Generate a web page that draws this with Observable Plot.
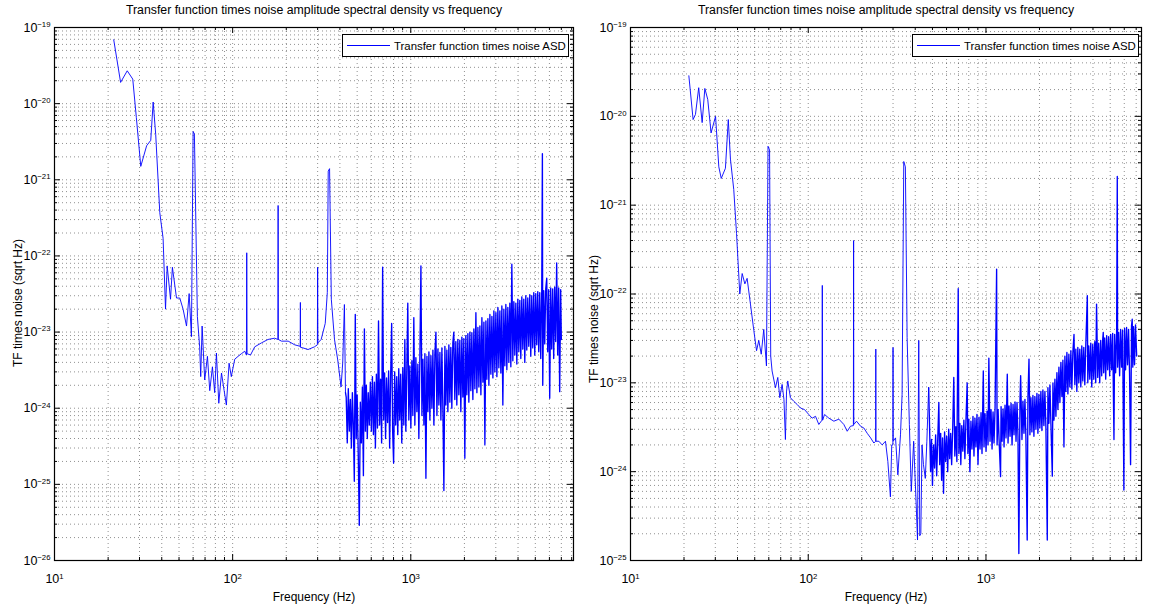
<!DOCTYPE html>
<html>
<head>
<meta charset="utf-8">
<script src="https://cdn.jsdelivr.net/npm/d3@7"></script>
<script src="https://cdn.jsdelivr.net/npm/@observablehq/plot@0.6"></script>
<style>
  body { margin: 0; background: #fff; }
  #wrap { position: relative; width: 1149px; height: 606px; background: #fff; overflow: hidden;
          font-family: "Liberation Sans", Arial, Helvetica, sans-serif; }
  .panel { position: absolute; top: 0; }
  .legend { position: absolute; box-sizing: border-box; border: 1px solid #000; background: #fff;
            display: flex; align-items: center; font-size: 11.4px; color: #000; white-space: nowrap; }
  .legend svg { flex: none; }
</style>
</head>
<body>
<div id="wrap">
  <div id="left" class="panel" style="left:0px"></div>
  <div id="right" class="panel" style="left:580px"></div>
  <div class="legend" style="left:342px;top:34px;width:227px;height:23px;">
    <svg width="51" height="21"><line x1="4" x2="47" y1="10.5" y2="10.5" stroke="#0000ff" stroke-width="1"/></svg>
    <span>Transfer function times noise ASD</span>
  </div>
  <div class="legend" style="left:912px;top:34px;width:227px;height:23px;">
    <svg width="51" height="21"><line x1="4" x2="47" y1="10.5" y2="10.5" stroke="#0000ff" stroke-width="1"/></svg>
    <span>Transfer function times noise ASD</span>
  </div>
</div>
<script>
// ---------------- text ----------------
const titleText = "Transfer function times noise amplitude spectral density vs frequency";
const xLabel = "Frequency (Hz)";
const yLabel = "TF times noise (sqrt Hz)";
const legendText = "Transfer function times noise ASD";

// ---------------- ticks ----------------
const xMajorTicks = [10, 100, 1000];
const leftYTicks = [1e-26, 1e-25, 1e-24, 1e-23, 1e-22, 1e-21, 1e-20, 1e-19];
const rightYTicks = [1e-25, 1e-24, 1e-23, 1e-22, 1e-21, 1e-20, 1e-19];

// frequency above which the spectrum is a dense noise band
const leftBandStart = 430;
const rightBandStart = 476;

// ---------------- left panel data (Hz, ASD) ----------------
const leftFreq = [
  21.5,23.5,25.6,27.5,28.8,30.5,32.9,34.7,35.8,37.0,39.0,40.7,42.0,42.9,44.8,45.9,48.4,50.5,52.7,55.1,
  57.0,58.7,60.0,61.0,63.4,65.3,66.2,67.4,69.7,72.2,74.4,77.0,79.3,81.1,83.6,86.6,89.6,92.2,95.5,98.3,
  102.7,107.3,112,117,119.5,120,120.5,126,133,145,158,172,179.5,180,180.5,188,205,223,239.5,240,
  240.5,248,265,288,299,300,301,314,331,340,344,350,358,373,389,406,415,424,430,
  434,440,446,452,458,464,470,476,482,488,494,500,507,514,521,528,535,542,549,556,563,570,577,585,593,
  601,609,617,625,633,641,650,659,668,677,686,695,704,713,722,731,741,751,761,771,781,791,801,812,823,
  834,845,856,867,878,890,902,914,926,938,950,962,975,988,
  1001,1014,1027,1040,1054,1068,1082,1096,1110,1125,1140,1155,1170,1185,1200,1216,1232,1248,1264,1280,
  1297,1314,1331,1348,1366,1384,1402,1420,1438,1457,1476,1495,1514,1534,1554,1574,1594,1615,1636,1657,1678,
  1700,1722,1744,1767,1790,1813,1837,1861,1885,1910,1935,1960,1985,2011,2037,2064,2091,2118,2146,2174,
  2202,2231,2260,2290,2320,2350,2381,2412,2443,2475,2507,
  2540,2573,2606,2640,2674,2709,2744,2780,2816,2853,2890,2927,2965,3004,3043,3082,3122,3163,3204,3245,
  3287,3330,3373,3417,3461,3506,3552,3598,3645,3692,3740,
  3789,3838,3888,3938,3989,4041,4093,4146,4200,4254,4309,4365,4422,4479,4537,4596,4656,4716,4777,4839,
  4902,4966,5030,5095,5161,5228,5296,5365,5435,5480,5505,5577,5649,5722,5796,5871,5947,6024,6102,6181,
  6261,6342,6424,6507,6591,6677,6764,6852,6941,7000
];
const leftASD = [
  6.9e-20,1.9e-20,2.7e-20,2.1e-20,6.6e-21,1.5e-21,2.8e-21,3.3e-21,1.05e-20,3.9e-21,3.7e-22,1.7e-22,2.0e-23,7.4e-23,2.7e-23,7.1e-23,2.8e-23,2.8e-23,2.0e-23,1.2e-23,
  3.2e-23,8.7e-24,4.3e-21,4.0e-21,1.6e-23,6.4e-24,2.6e-24,1.2e-23,2.35e-24,4.8e-24,1.7e-24,3.5e-24,1.6e-24,5.3e-24,1.16e-24,2.9e-24,1.7e-24,1.1e-24,3.9e-24,2.6e-24,
  4.4e-24,4.8e-24,5.2e-24,5.6e-24,5.0e-24,1.1e-22,5.2e-24,5.0e-24,6.4e-24,7.2e-24,8.0e-24,8.3e-24,8.0e-24,4.6e-22,8.0e-24,7.6e-24,7.6e-24,6.8e-24,6.5e-24,2.45e-23,
  6.3e-24,6.2e-24,5.9e-24,6.4e-24,6.8e-24,7.1e-23,7.2e-24,8.0e-24,1.3e-23,3.3e-23,1.3e-21,1.4e-21,2.7e-23,8.0e-24,4.3e-24,1.9e-24,4.0e-24,2.3e-23,1.6e-24,
  1.4e-24,3.5e-25,1.8e-24,5e-25,1.3e-24,3e-25,1.6e-24,6e-25,1.1e-25,1.7e-23,4e-25,1.5e-24,2.5e-25,2.9e-26,1.2e-24,3.5e-25,1.9e-24,1.3e-25,1.1e-23,5e-25,2.0e-24,4e-25,1.6e-24,6e-25,2.2e-24,
  5e-25,2.6e-24,4.5e-25,2.2e-24,3e-25,2.8e-24,5.5e-25,1.4e-23,6e-25,2.4e-24,3.5e-25,7.1e-23,7e-25,2.9e-24,4e-25,2.5e-24,6.5e-25,3.1e-24,3e-25,2.7e-24,1.3e-23,5e-25,1.9e-25,3.0e-24,6e-25,
  2.6e-24,4.5e-25,3.3e-24,7e-25,2.8e-24,3.5e-25,3.4e-24,6e-25,8e-24,5e-25,3.2e-24,2.4e-23,7e-25,3.6e-24,
  5.5e-25,4.2e-24,8e-25,1.55e-23,6e-25,4.6e-24,9e-25,3.8e-24,4e-25,5.0e-24,7.4e-23,8e-25,4.4e-24,6e-25,5.2e-24,1.2e-25,4.8e-24,9e-25,5.5e-24,7e-25,
  4.9e-24,1.0e-24,5.8e-24,6e-25,5.3e-24,1.0e-23,8e-25,6.0e-24,1.1e-24,5.4e-24,7e-25,6.2e-24,1.0e-24,8.3e-26,6.5e-24,1.1e-24,5.8e-24,9e-25,6.8e-24,1.2e-24,6.3e-24,
  1.0e-24,7.2e-24,1.0e-23,1.3e-24,7.5e-24,1.1e-24,8.0e-24,1.5e-24,7.8e-24,9e-25,8.6e-24,1.4e-24,8.2e-24,2.2e-25,9.0e-24,1.5e-24,9.5e-24,1.2e-24,1.0e-23,1.7e-24,
  9.8e-24,1.3e-24,1.1e-23,1.8e-24,1.8e-23,1.6e-24,1.15e-23,1.9e-24,1.2e-23,1.5e-24,1.55e-23,
  2.2e-24,1.35e-23,3.3e-25,1.4e-23,2.4e-24,1.5e-23,2.0e-24,1.7e-23,2.8e-24,1.6e-23,2.5e-24,1.9e-23,3.0e-24,1.8e-23,2.6e-24,2.1e-23,3.4e-24,1.9e-23,2.9e-24,2.2e-23,
  1.1e-24,2.0e-23,3.6e-24,2.3e-23,3.2e-24,2.1e-23,4.0e-24,2.4e-23,3.5e-24,7.8e-23,4.2e-24,
  2.5e-23,5.0e-24,2.4e-23,3.8e-24,2.7e-23,5.5e-24,2.6e-23,4.5e-24,2.9e-23,6.0e-24,2.7e-23,4.0e-24,3.0e-23,5.8e-24,2.8e-23,6.5e-24,3.1e-23,4.8e-24,3.0e-23,6.2e-24,
  3.3e-23,5.0e-24,3.2e-23,6.8e-24,3.4e-23,5.5e-24,3.3e-23,4.5e-24,3.6e-23,2.2e-21,2.0e-24,3.5e-23,7.0e-24,3.7e-23,5.1e-23,5.5e-24,3.6e-23,1.35e-24,3.8e-23,6.0e-24,
  3.7e-23,4.5e-24,3.9e-23,7.5e-24,8.1e-23,5.0e-24,3.8e-23,1.65e-24,3.6e-23,8e-24
];

// ---------------- right panel data (Hz, ASD) ----------------
const rightFreq = [
  21.3,22.5,23.2,24.2,25.3,26.2,27.2,28.4,30.1,31.4,32.4,34.2,35.5,36.5,38.1,39.5,41.2,42.5,44.0,45.3,
  47.3,49.4,51.2,52.7,54.4,56.2,58.2,59.4,60.6,61.5,62.6,65.4,67.4,69.2,71.3,73.0,74.4,75.5,76.7,79.4,
  82.9,86.7,90.5,95.3,100.7,105.2,109.9,114.7,119.5,120,120.5,123.6,130.7,139.4,148.7,158.6,165.7,172.9,179.5,180,
  180.5,187.0,196.9,205.6,214.8,224.4,234,239.5,240,240.5,249.7,260.6,272,280.5,290,295,299.5,300,300.5,309.9,
  319.3,330.4,337.4,344.7,352,360,370.7,380,391.8,405.6,412,418.6,424,430,436.6,445,455.7,465,476,
  488,494,500,507,514,521,528,535,543,549,556,563,570,577,585,593,601,609,617,625,633,641,650,
  659,668,677,686,698,704,713,722,731,741,751,761,771,784,791,801,812,823,834,845,856,867,878,890,902,914,926,938,950,966,975,988,
  1001,1014,1027,1038,1054,1068,1082,1096,1110,1125,1148,1155,1170,1185,1208,1216,1232,1248,1264,1280,1297,1318,1331,1348,1366,1384,
  1402,1420,1438,1457,1476,1495,1514,1531,1554,1567,1594,1615,1636,1657,1678,1706,1722,1746,1767,1790,
  1813,1837,1861,1885,1910,1935,1960,1985,2011,2037,2064,2091,2118,2146,2174,2213,2231,2260,2290,2320,2362,2381,2412,2443,2475,2507,
  2540,2573,2606,2640,2674,2709,2746,
  2780,2816,2853,2890,2927,2965,3004,3043,3082,3128,3163,3204,3245,3287,3330,3373,3417,3461,3506,3552,3598,3645,3718,3740,3789,3838,
  3888,3938,3989,4041,4093,4146,4190,4254,4309,4365,4422,4479,
  4537,4570,4596,4656,4716,4777,4839,4902,4966,5030,5095,5161,5250,5296,5365,5435,5480,5505,5577,5649,5722,5796,5871,5970,6024,6102,
  6181,6261,6342,6424,6510,6591,6650,6700,6764,6852,6941,7045
];
const rightASD = [
  2.86e-20,9.2e-21,1.05e-20,2.1e-20,8.5e-21,2.06e-20,1.55e-20,6.5e-21,1.0e-20,2.7e-21,2.0e-21,2.6e-21,9.2e-21,3.3e-21,1.5e-21,4.8e-22,1.0e-22,1.7e-22,1.3e-22,1.5e-22,
  7.7e-23,3.9e-23,2.3e-23,3.0e-23,2.1e-23,4.0e-23,1.55e-23,4.6e-21,4.2e-21,2.0e-23,1.36e-23,8.8e-24,1.15e-23,6.8e-24,9.6e-24,6.5e-24,2.3e-24,8e-24,1.05e-23,6.8e-24,
  6.2e-24,5.7e-24,5.2e-24,5.0e-24,4.4e-24,4.0e-24,4.2e-24,3.4e-24,3.8e-24,1.25e-22,3.8e-24,4.4e-24,4.0e-24,3.7e-24,3.9e-24,3.4e-24,2.85e-24,3.25e-24,3.3e-24,4.0e-22,
  3.4e-24,3.7e-24,3.25e-24,3.1e-24,2.7e-24,2.4e-24,2.1e-24,2.2e-24,2.4e-23,2.2e-24,2.2e-24,2.0e-24,2.2e-24,1.3e-24,5.2e-25,2.0e-24,2.0e-24,2.5e-23,2.2e-24,2.4e-24,
  9.2e-25,2.6e-24,7.4e-24,3.1e-21,2.7e-21,3.25e-23,3.4e-24,6.0e-25,2.2e-24,3.9e-25,1.7e-25,3.0e-23,1.9e-25,2.0e-25,2.0e-24,1.2e-24,8.4e-25,2.2e-24,8.8e-24,
  1.0e-24,2.3e-24,7e-25,2.0e-24,1.1e-24,2.6e-24,9e-25,2.2e-24,6.0e-24,1.2e-24,2.7e-24,8e-25,2.4e-24,5.7e-25,2.8e-24,1.3e-24,2.5e-24,1.0e-24,3.0e-24,1.4e-24,2.7e-24,1.2e-24,3.1e-24,
  1.15e-23,1.5e-24,3.2e-24,1.3e-24,1.15e-22,1.6e-24,3.5e-24,1.2e-24,3.3e-24,1.7e-24,3.8e-24,1.4e-24,3.6e-24,1.0e-23,1.6e-24,3.9e-24,1.0e-24,3.7e-24,1.8e-24,4.2e-24,1.5e-24,4.0e-24,1.9e-24,4.4e-24,1.2e-24,4.1e-24,1.8e-24,4.6e-24,1.6e-24,1.36e-23,1.9e-24,4.5e-24,
  1.7e-24,4.8e-24,2.0e-24,1.9e-23,2.2e-24,5.0e-24,1.8e-24,4.7e-24,2.1e-24,5.2e-24,1.9e-22,2.0e-24,5.0e-24,2.3e-24,8.8e-25,5.4e-24,2.2e-24,5.1e-24,1.9e-24,5.6e-24,2.4e-24,1.25e-23,2.1e-24,5.5e-24,2.5e-24,5.9e-24,
  2.0e-24,5.7e-24,2.6e-24,6.1e-24,2.2e-24,6.0e-24,2.5e-24,1.2e-25,6.3e-24,1.2e-23,2.3e-24,6.2e-24,2.7e-24,6.5e-24,2.4e-24,1.7e-25,6.6e-24,1.85e-23,2.6e-24,6.8e-24,
  2.8e-24,7.2e-24,2.5e-24,7.0e-24,3.0e-24,7.6e-24,2.7e-24,7.4e-24,3.1e-24,8.0e-24,2.9e-24,8.3e-24,3.3e-24,8.0e-24,3.1e-24,1.7e-25,8.8e-24,3.5e-24,9.5e-24,3.4e-24,8.9e-25,1.0e-23,3.8e-24,1.1e-23,4.2e-24,1.3e-23,
  5.0e-24,1.5e-23,6.0e-24,1.7e-23,7.0e-24,1.8e-23,1.9e-24,
  2.0e-23,8.0e-24,2.2e-23,7.5e-24,2.1e-23,9.0e-24,2.3e-23,8.5e-24,2.2e-23,3.5e-23,9.5e-24,2.4e-23,8.0e-24,2.5e-23,1.0e-23,2.4e-23,9.0e-24,2.6e-23,1.05e-23,2.5e-23,9.5e-24,2.7e-23,9.6e-23,1.0e-23,2.6e-23,1.1e-23,
  2.8e-23,9.0e-24,2.7e-23,1.1e-23,2.9e-23,1.0e-23,7.7e-23,1.15e-23,2.8e-23,1.0e-23,3.0e-23,1.2e-23,
  3.1e-23,3.7e-23,1.3e-23,3.2e-23,1.1e-23,3.4e-23,1.4e-23,3.3e-23,1.2e-23,3.5e-23,1.4e-23,3.6e-23,2.3e-24,3.5e-23,1.3e-23,3.8e-23,2.1e-21,1.5e-23,3.7e-23,1.2e-23,4.0e-23,1.5e-23,3.9e-23,6.2e-25,4.1e-23,1.4e-23,
  4.2e-23,1.6e-23,4.0e-23,1.3e-23,1.2e-24,4.4e-23,5.2e-23,1.5e-23,4.3e-23,1.6e-23,4.5e-23,2.0e-23
];

// ---------------- helpers ----------------
const powerLabel = d => "10^" + Math.round(Math.log10(d));

function minorTicks(lo, hi) {
  const out = [];
  for (let e = Math.floor(Math.log10(lo)); e <= Math.ceil(Math.log10(hi)); e++) {
    for (let m = 1; m <= 9; m++) {
      const v = m * Math.pow(10, e);
      if (v >= lo * 0.999 && v <= hi * 1.001) out.push(v);
    }
  }
  return out;
}

// turn "10^-19" tick labels into 10 with a raised exponent
function superscriptLabels(svg) {
  svg.querySelectorAll("text").forEach(t => {
    const m = t.textContent.match(/^10\^(-?\d+)$/);
    if (!m) return;
    t.textContent = "10";
    const ts = document.createElementNS("http://www.w3.org/2000/svg", "tspan");
    ts.setAttribute("dy", "-0.6em");
    ts.setAttribute("font-size", "0.62em");
    ts.textContent = m[1].replace("-", "\u2212");
    t.append(ts);
  });
  return svg;
}

function panel({freq, asd, bandStart, xDomain, yDomain, yTicks, width, marginLeft, marginRight, yLabelShift}) {
  const height = 606, marginTop = 27, marginBottom = 46;
  const innerW = width - marginLeft - marginRight;
  const innerH = height - marginTop - marginBottom;
  const data = freq.map((f, i) => ({f, v: asd[i]}));
  const low = data.filter(d => d.f <= bandStart);   // resolved low-frequency part
  const band = data.filter(d => d.f >= bandStart);  // dense noise band
  const xGrid = minorTicks(xDomain[0], xDomain[1]).filter(v => v > xDomain[0] && v < xDomain[1]);
  const yGrid = minorTicks(yDomain[0], yDomain[1]).filter(v => v > yDomain[0] * 1.001 && v < yDomain[1] * 0.999);
  const xMinorOnly = xGrid.filter(v => !xMajorTicks.includes(v));
  const yMinorOnly = yGrid.filter(v => !yTicks.some(t => Math.abs(t - v) / t < 1e-6));
  const gridStyle = {stroke: "#000", strokeOpacity: 0.55, strokeWidth: 0.8, strokeDasharray: "1,3"};
  const svg = Plot.plot({
    width, height, marginLeft, marginRight, marginTop, marginBottom,
    style: {fontFamily: "'Liberation Sans', Arial, Helvetica, sans-serif", fontSize: "12px", background: "#fff", color: "#000", overflow: "visible"},
    x: {type: "log", domain: xDomain},
    y: {type: "log", domain: yDomain},
    marks: [
      Plot.ruleX(xGrid, gridStyle),
      Plot.ruleY(yGrid, gridStyle),
      Plot.line(low, {x: "f", y: "v", stroke: "#0000ff", strokeWidth: 0.9}),
      Plot.line(band, {x: "f", y: "v", stroke: "#0000ff", strokeWidth: 1.35}),
      // inward ticks on all four sides
      Plot.tickX(xMajorTicks.filter(v => v > xDomain[0]), {insetTop: innerH - 6, stroke: "#000"}),
      Plot.tickX(xMajorTicks.filter(v => v > xDomain[0]), {insetBottom: innerH - 6, stroke: "#000"}),
      Plot.tickX(xMinorOnly, {insetTop: innerH - 3, stroke: "#000"}),
      Plot.tickX(xMinorOnly, {insetBottom: innerH - 3, stroke: "#000"}),
      Plot.tickY(yTicks, {insetRight: innerW - 6, stroke: "#000"}),
      Plot.tickY(yTicks, {insetLeft: innerW - 6, stroke: "#000"}),
      Plot.tickY(yMinorOnly, {insetRight: innerW - 3, stroke: "#000"}),
      Plot.tickY(yMinorOnly, {insetLeft: innerW - 3, stroke: "#000"}),
      Plot.frame({stroke: "#000", strokeWidth: 1.2}),
      Plot.axisX(xMajorTicks, {tickFormat: powerLabel, tickSize: 0, tickPadding: 14, label: null, fontSize: 12.5}),
      Plot.axisY(yTicks, {tickFormat: powerLabel, tickSize: 0, tickPadding: 4, label: null, fontSize: 12.5}),
      Plot.text([titleText], {frameAnchor: "top", dy: -17, fontSize: 12.3, textAnchor: "middle", lineAnchor: "middle"}),
      Plot.text([xLabel], {frameAnchor: "bottom", dy: 37, fontSize: 12, textAnchor: "middle", lineAnchor: "middle"}),
      Plot.text([yLabel], {frameAnchor: "left", dx: -36, dy: yLabelShift, rotate: -90, fontSize: 12, textAnchor: "middle", lineAnchor: "middle"})
    ]
  });
  return superscriptLabels(svg);
}

document.getElementById("left").append(panel({
  freq: leftFreq, asd: leftASD, bandStart: leftBandStart, xDomain: [10, 8192], yDomain: [1e-26, 1e-19], yTicks: leftYTicks,
  width: 580, marginLeft: 54, marginRight: 7, yLabelShift: 9
}));
document.getElementById("right").append(panel({
  freq: rightFreq, asd: rightASD, bandStart: rightBandStart, xDomain: [10, 7500], yDomain: [1e-25, 1e-19], yTicks: rightYTicks,
  width: 569, marginLeft: 50, marginRight: 8, yLabelShift: 25
}));
</script>
</body>
</html>
